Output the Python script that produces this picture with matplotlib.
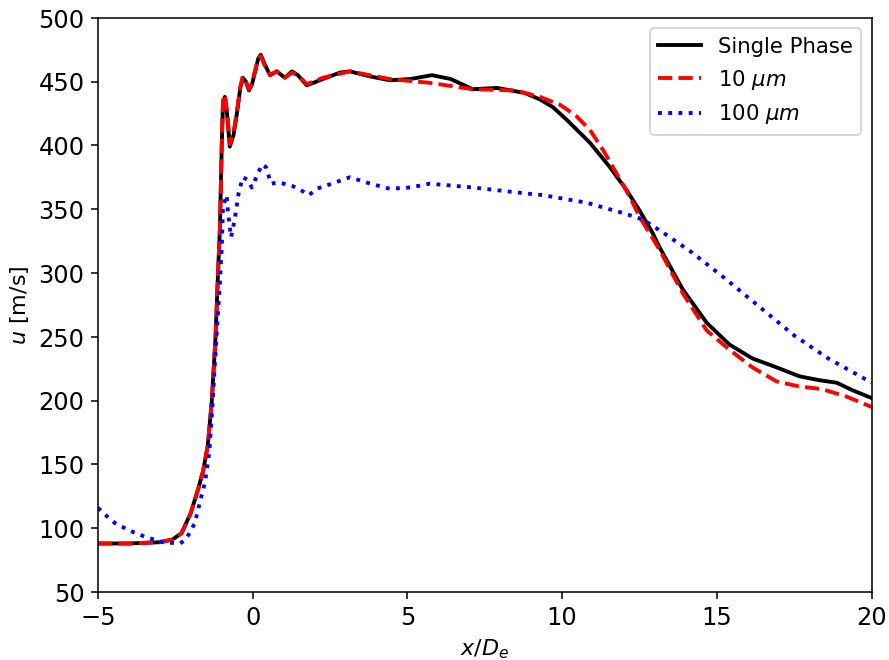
import matplotlib
matplotlib.use("Agg")
import matplotlib.pyplot as plt

# Single phase
x_sp = [-5, -4, -3, -2.6, -2.3, -2.0, -1.77, -1.6, -1.45, -1.32, -1.2, -1.12, -1.06, -1.0, -0.96,
        -0.9, -0.83, -0.74, -0.62, -0.51, -0.4, -0.32, -0.22, -0.12, -0.02, 0.07, 0.18, 0.26, 0.4,
        0.56, 0.78, 1.04, 1.27, 1.46, 1.75, 2.27, 2.82, 3.14, 3.8, 4.43, 5.1, 5.79, 6.4, 7.11, 7.9,
        8.8, 9.28, 9.7, 10.15, 10.9, 11.54, 12.08, 12.5, 12.93, 13.15, 13.9, 14.67, 15.4,
        16.15, 16.93, 17.67, 18.3, 18.87, 19.39, 20]
u_sp = [88, 88, 89, 91, 96, 112, 130, 145, 165, 200, 250, 300, 334, 400, 433,
        438, 425, 399, 408, 425, 445, 453, 450, 443, 448, 457, 468, 471, 463,
        455, 458, 453, 458, 455, 447, 452, 457, 458, 454, 451, 452, 455, 452, 444, 445,
        441, 436, 430, 420, 402, 383, 365, 349, 331, 320, 287, 261, 244,
        233, 226, 219, 216, 214, 208, 202]

# 10 um
x_10 = [-5, -4, -3, -2.6, -2.3, -2.0, -1.77, -1.6, -1.45, -1.32, -1.2, -1.12, -1.06, -1.0, -0.96,
        -0.9, -0.83, -0.74, -0.62, -0.51, -0.4, -0.32, -0.22, -0.12, -0.02, 0.07, 0.18, 0.26, 0.4,
        0.56, 0.78, 1.04, 1.27, 1.46, 1.75, 2.27, 3.14, 4.43, 5.72, 7.11, 8.5, 9.28, 9.92, 10.46,
        10.9, 11.33, 11.76, 12.18, 12.5, 12.83, 13.15, 13.9, 14.67, 15.4, 16.15, 16.93, 17.67,
        18.4, 19.2, 20]
u_10 = [88, 88, 89, 91, 96, 112, 130, 145, 165, 200, 250, 300, 334, 400, 435,
        440, 427, 401, 410, 427, 446, 454, 450, 444, 449, 458, 468, 470, 462,
        455, 458, 453, 457, 455, 448, 453, 458, 452, 449, 444, 443, 438, 432, 423,
        412, 396, 378, 360, 344, 331, 318, 284, 255, 240, 226, 215, 211,
        209, 203, 195]

# 100 um
x_100 = [-5, -4.84, -4.45, -3.97, -3.45, -2.9, -2.35, -2.16, -1.87, -1.67, -1.54, -1.4, -1.29, -1.17,
         -1.06, -1.0, -0.96, -0.84, -0.8, -0.7, -0.58, -0.45, -0.32, -0.16, -0.03, 0.17, 0.3, 0.43,
         0.59, 0.85, 1.3, 1.62, 1.82, 2.07, 2.56, 3.14, 3.8, 4.43, 5.1, 5.72, 7.11, 8.95, 9.38, 10.8,
         11.96, 12.6, 13.3, 14.2, 15.3, 16.4, 17.5, 18.6, 20]
u_100 = [116, 112, 104, 98, 93, 89, 88, 91, 104, 124, 136, 160, 200, 250,
         292, 320, 352, 361, 348, 328, 342, 363, 375, 373, 367, 378, 385, 383,
         370, 371, 368, 364, 361, 366, 370, 375, 370, 366, 367, 370, 367, 362, 361, 355,
         347, 342, 331, 316, 295, 273, 251, 233, 214]

labels = ["Single Phase", r"10 $\mu m$", r"100 $\mu m$"]

fig = plt.figure(figsize=(6.4, 4.75), dpi=139)
ax = fig.add_axes([98/890, 1 - 592/660, (872-98)/890, (592-18)/660])
ax.plot(x_sp, u_sp, color="black", linestyle="-", linewidth=2, label=labels[0])
ax.plot(x_10, u_10, color="red", linestyle="--", linewidth=2, label=labels[1])
ax.plot(x_100, u_100, color="blue", linestyle=":", linewidth=2, label=labels[2])
ax.set_xlim(-5, 20)
ax.set_ylim(50, 500)
ax.tick_params(labelsize=12.5)
ax.set_xlabel(r"$x/D_e$", fontsize=11.5)
ax.set_ylabel(r"$u$ [m/s]", fontsize=11.5)
ax.legend(loc="upper right", fontsize=11)
fig.savefig("out.png", dpi=139)
